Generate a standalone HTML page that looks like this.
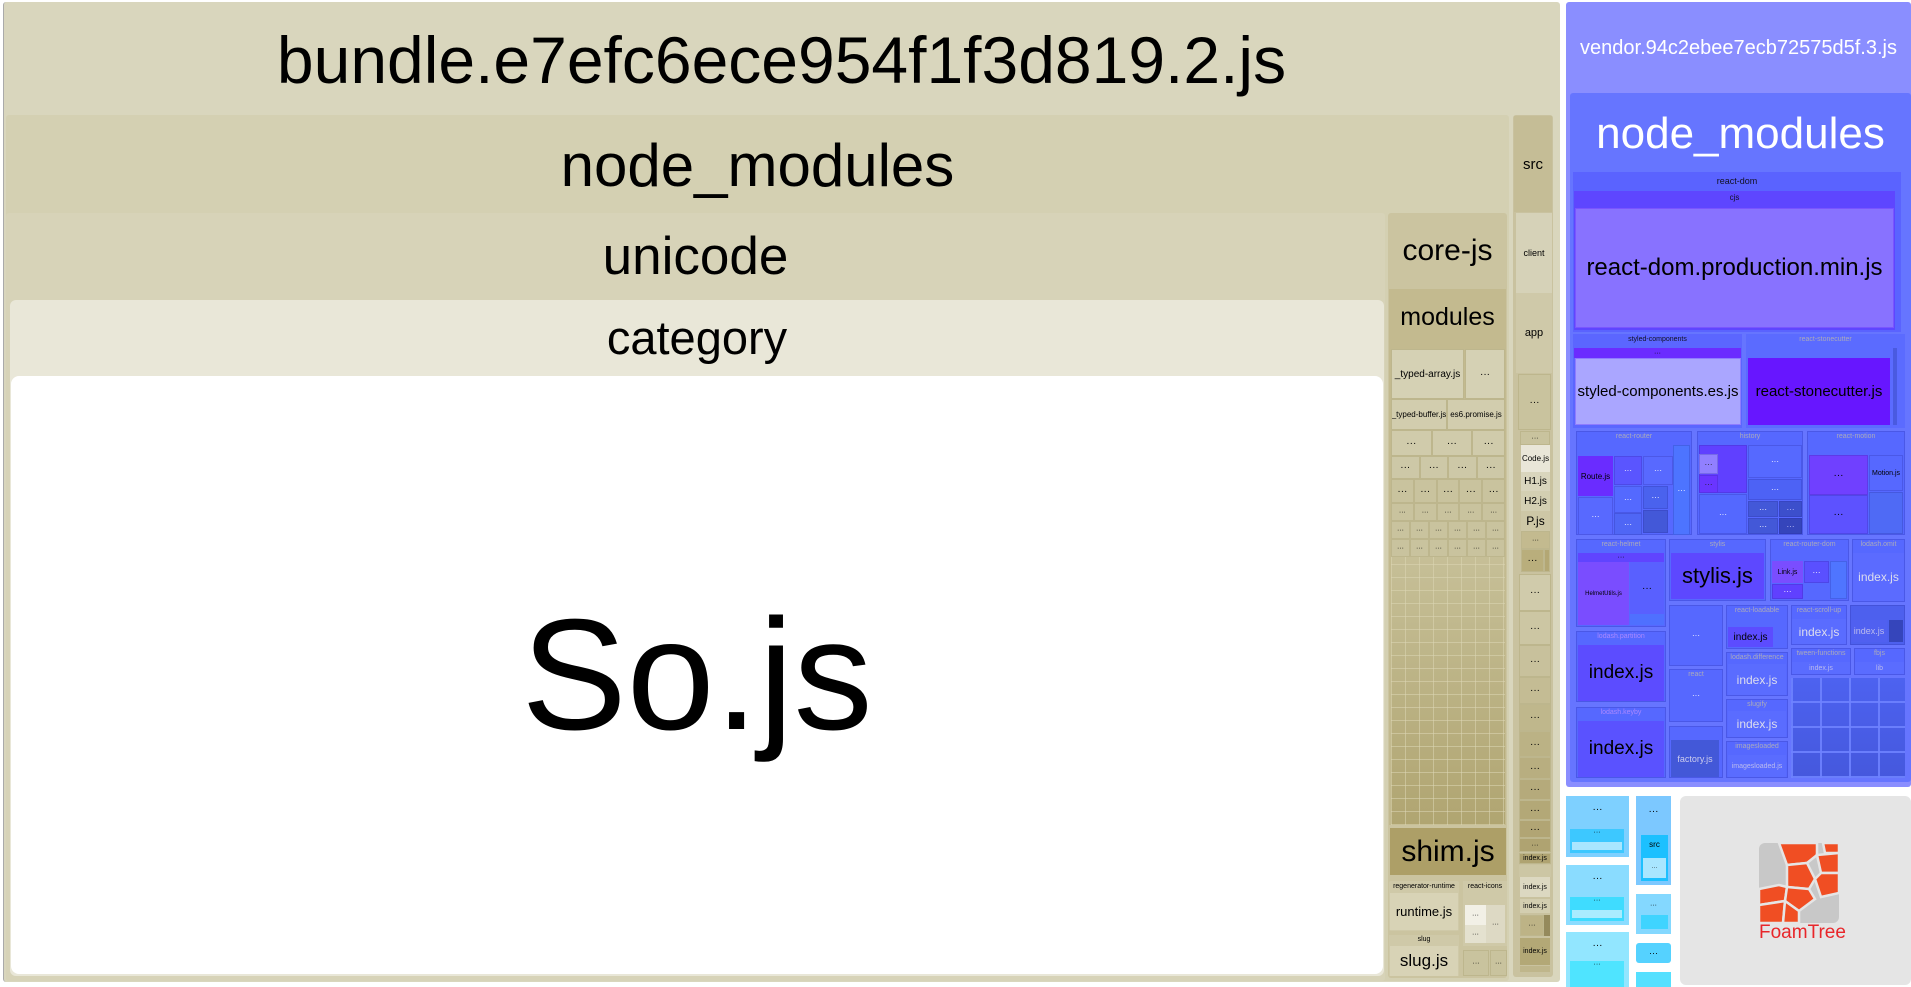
<!DOCTYPE html>
<html><head><meta charset="utf-8"><style>
*{margin:0;padding:0;box-sizing:border-box}
body{width:1911px;height:987px;background:#fff;position:relative;overflow:hidden;font-family:"Liberation Sans",sans-serif}
.b{position:absolute;display:flex;align-items:center;justify-content:center;text-align:center;white-space:nowrap;overflow:hidden;color:#000}
.t{position:absolute;left:0;right:0;text-align:center;white-space:nowrap}
.s{background:#c9c39e;border:1px solid #bdb68d;font-size:10px}
.v{border:1px solid rgba(40,40,160,.25);font-size:8px;color:#c9c9ff}
</style></head><body>

<!-- bundle -->
<div class="b" style="left:3px;top:2px;width:1557px;height:980px;background:#d9d6bd;border-left:1px solid #aaa;border-radius:3px"></div>
<div class="t" style="left:3px;width:1557px;top:20px;font-size:66px;line-height:80px">bundle.e7efc6ece954f1f3d819.2.js</div>

<div class="b" style="left:6px;top:115px;width:1503px;height:866px;background:#d4d0b2;border-radius:3px"></div>
<div class="t" style="left:6px;width:1503px;top:133px;font-size:60px;line-height:66px">node_modules</div>

<div class="b" style="left:6px;top:213px;width:1379px;height:768px;background:#d7d3b8;border-radius:3px"></div>
<div class="t" style="left:6px;width:1379px;top:228px;font-size:53px;line-height:58px">unicode</div>

<div class="b" style="left:10px;top:300px;width:1374px;height:676px;background:#e9e7d8;border-radius:6px"></div>
<div class="t" style="left:10px;width:1374px;top:312px;font-size:47px;line-height:52px">category</div>

<div class="b" style="left:11px;top:376px;width:1372px;height:598px;background:#fff;border-radius:8px;font-size:158px">So.js</div>

<!-- core-js -->
<div class="b" style="left:1388px;top:213px;width:119px;height:765px;background:#cbc4a0;border-radius:3px"></div>
<div class="t" style="left:1388px;width:119px;top:234px;font-size:30px;line-height:34px">core-js</div>
<div class="b" style="left:1389px;top:289px;width:117px;height:536px;background:#c3ba8f"></div>
<div class="t" style="left:1389px;width:117px;top:302px;font-size:25px;line-height:30px">modules</div>
<div class="b s" style="left:1391px;top:349px;width:73px;height:50px;background:#d5d1b4">_typed-array.js</div>
<div class="b s" style="left:1465px;top:349px;width:40px;height:50px;background:#d5d1b4">···</div>
<div class="b s" style="left:1391px;top:399px;width:56px;height:31px;font-size:8px;background:#d2cdae">_typed-buffer.js</div>
<div class="b s" style="left:1447px;top:399px;width:58px;height:31px;font-size:8px;background:#d2cdae">es6.promise.js</div>
<div style="position:absolute;left:1391px;top:430px;width:114px;height:127px;display:grid;grid-template-rows:26px 23px 24px 18px 18px 18px;">
 <div style="display:flex"><div class="b s" style="position:relative;flex:1;background:#d0cbab">···</div><div class="b s" style="position:relative;flex:1;background:#d0cbab">···</div><div class="b s" style="position:relative;flex:.8;background:#d0cbab">···</div></div>
 <div style="display:flex"><div class="b s" style="position:relative;flex:1;background:#cdc8a7">···</div><div class="b s" style="position:relative;flex:1;background:#cdc8a7">···</div><div class="b s" style="position:relative;flex:1;background:#cdc8a7">···</div><div class="b s" style="position:relative;flex:1;background:#cdc8a7">···</div></div>
 <div style="display:flex"><div class="b s" style="position:relative;flex:1">···</div><div class="b s" style="position:relative;flex:1">···</div><div class="b s" style="position:relative;flex:1">···</div><div class="b s" style="position:relative;flex:1">···</div><div class="b s" style="position:relative;flex:1">···</div></div>
 <div style="display:flex"><div class="b s" style="position:relative;flex:1;font-size:7px">···</div><div class="b s" style="position:relative;flex:1;font-size:7px">···</div><div class="b s" style="position:relative;flex:1;font-size:7px">···</div><div class="b s" style="position:relative;flex:1;font-size:7px">···</div><div class="b s" style="position:relative;flex:1;font-size:7px">···</div></div>
 <div style="display:flex"><div class="b s" style="position:relative;flex:1;font-size:7px">···</div><div class="b s" style="position:relative;flex:1;font-size:7px">···</div><div class="b s" style="position:relative;flex:1;font-size:7px">···</div><div class="b s" style="position:relative;flex:1;font-size:7px">···</div><div class="b s" style="position:relative;flex:1;font-size:7px">···</div><div class="b s" style="position:relative;flex:1;font-size:7px">···</div></div>
 <div style="display:flex"><div class="b s" style="position:relative;flex:1;font-size:7px">···</div><div class="b s" style="position:relative;flex:1;font-size:7px">···</div><div class="b s" style="position:relative;flex:1;font-size:7px">···</div><div class="b s" style="position:relative;flex:1;font-size:7px">···</div><div class="b s" style="position:relative;flex:1;font-size:7px">···</div><div class="b s" style="position:relative;flex:1;font-size:7px">···</div></div>
</div>
<div style="position:absolute;left:1391px;top:557px;width:114px;height:268px;background:
repeating-linear-gradient(90deg,rgba(220,214,180,.55) 0 1px,transparent 1px 14px),
repeating-linear-gradient(0deg,rgba(220,214,180,.55) 0 1px,transparent 1px 13px),
linear-gradient(#c6bf97,#b0a571)"></div>

<div class="b" style="left:1390px;top:828px;width:116px;height:47px;background:#ad9f67;font-size:30px">shim.js</div>
<div class="b" style="left:1389px;top:881px;width:70px;height:50px;background:#cfc9a8;border-radius:2px"></div>
<div class="t" style="left:1389px;width:70px;top:883px;font-size:7px">regenerator-runtime</div>
<div class="b" style="left:1390px;top:893px;width:68px;height:37px;background:#d8d3b6;font-size:13px">runtime.js</div>
<div class="b" style="left:1389px;top:935px;width:70px;height:41px;background:#cfc9a8"></div>
<div class="t" style="left:1389px;width:70px;top:936px;font-size:7px">slug</div>
<div class="b" style="left:1390px;top:946px;width:68px;height:30px;background:#d8d3b6;font-size:17px">slug.js</div>
<div class="b" style="left:1463px;top:881px;width:44px;height:65px;background:#cfc9a8"></div>
<div class="t" style="left:1463px;width:44px;top:883px;font-size:7px">react-icons</div>
<div class="b" style="left:1465px;top:905px;width:21px;height:20px;background:#f2f0e6;font-size:7px">···</div>
<div class="b" style="left:1486px;top:905px;width:19px;height:38px;background:#ddd9c4;font-size:7px">···</div>
<div class="b" style="left:1465px;top:925px;width:21px;height:18px;background:#e4e1cf;font-size:7px">···</div>
<div class="b s" style="left:1463px;top:950px;width:26px;height:26px;font-size:7px">···</div>
<div class="b s" style="left:1490px;top:950px;width:17px;height:26px;font-size:7px">···</div>

<!-- src column -->
<div class="b" style="left:1513px;top:115px;width:40px;height:862px;background:#c9c29f;border-radius:3px"></div>
<div class="b" style="left:1514px;top:116px;width:38px;height:96px;background:#c5bd96;font-size:15px">src</div>
<div class="b" style="left:1516px;top:213px;width:36px;height:80px;background:#d6d2b8;font-size:9px">client</div>
<div class="b" style="left:1516px;top:293px;width:36px;height:80px;background:#cfc9a9;font-size:11px">app</div>
<div class="b s" style="left:1518px;top:374px;width:33px;height:56px">···</div>
<div class="b s" style="left:1520px;top:431px;width:30px;height:14px;font-size:7px">···</div>
<div class="b" style="left:1521px;top:445px;width:29px;height:27px;background:#e9e6d8;font-size:8px">Code.js</div>
<div class="b" style="left:1521px;top:472px;width:29px;height:19px;background:#d9d5bd;font-size:10px">H1.js</div>
<div class="b" style="left:1521px;top:491px;width:29px;height:20px;background:#d3cfb2;font-size:10px">H2.js</div>
<div class="b" style="left:1521px;top:511px;width:29px;height:20px;background:#cdc7a6;font-size:12px">P.js</div>
<div class="b s" style="left:1521px;top:531px;width:29px;height:18px;font-size:7px;background:#c3ba8f">···</div>
<div class="b s" style="left:1521px;top:549px;width:23px;height:23px;background:#b9ae7c">···</div>
<div class="b s" style="left:1544px;top:549px;width:6px;height:23px;background:#b3a774"></div>
<div class="b s" style="left:1519px;top:574px;width:32px;height:37px;background:#d0cbab">···</div>
<div class="b s" style="left:1519px;top:611px;width:32px;height:34px;background:#ccc6a3">···</div>
<div class="b s" style="left:1519px;top:645px;width:32px;height:32px;background:#c8c19c">···</div>
<div class="b s" style="left:1519px;top:677px;width:32px;height:27px;background:#c4bc94">···</div>
<div class="b s" style="left:1519px;top:704px;width:32px;height:27px;background:#bfb78c">···</div>
<div class="b s" style="left:1519px;top:731px;width:32px;height:26px;background:#bbb285">···</div>
<div class="b s" style="left:1519px;top:757px;width:32px;height:22px;background:#b8ae80">···</div>
<div class="b s" style="left:1519px;top:779px;width:32px;height:21px;background:#b5aa7b">···</div>
<div class="b s" style="left:1519px;top:800px;width:32px;height:20px;background:#b3a877">···</div>
<div class="b s" style="left:1519px;top:820px;width:32px;height:18px;background:#b1a574">···</div>
<div class="b s" style="left:1519px;top:838px;width:32px;height:14px;background:#afa371;font-size:7px">···</div>
<div class="b s" style="left:1519px;top:853px;width:32px;height:11px;background:#afa371;font-size:7px">index.js</div>
<div class="b" style="left:1519px;top:865px;width:32px;height:12px;background:#ccc6a4"></div>
<div class="b" style="left:1520px;top:877px;width:30px;height:20px;background:#dcd8c1;font-size:7px">index.js</div>
<div class="b" style="left:1520px;top:899px;width:30px;height:14px;background:#d3ceb0;font-size:7px">index.js</div>
<div class="b s" style="left:1520px;top:915px;width:24px;height:21px;background:#bdb386;font-size:7px">···</div>
<div class="b" style="left:1544px;top:915px;width:6px;height:21px;background:#958a5c"></div>
<div class="b" style="left:1520px;top:938px;width:30px;height:27px;background:#b3a876;font-size:7px">index.js</div>
<div class="b" style="left:1520px;top:966px;width:30px;height:6px;background:#bfb68b"></div>

<!-- vendor -->
<div class="b" style="left:1566px;top:2px;width:345px;height:785px;background:#8a8eff;border-radius:3px"></div>
<div class="t" style="left:1566px;width:345px;top:36px;font-size:20px;color:#fff;line-height:24px">vendor.94c2ebee7ecb72575d5f.3.js</div>
<div class="b" style="left:1570px;top:93px;width:341px;height:689px;background:#6675ff;border-radius:3px"></div>
<div class="t" style="left:1570px;width:341px;top:109px;font-size:44px;color:#fff;line-height:50px">node_modules</div>

<div class="b" style="left:1573px;top:172px;width:328px;height:160px;background:#5a63ff"></div>
<div class="t" style="left:1573px;width:328px;top:176px;font-size:9px;color:#112">react-dom</div>
<div class="b" style="left:1574px;top:191px;width:321px;height:139px;background:#5e46ff"></div>
<div class="t" style="left:1574px;width:321px;top:193px;font-size:8px;color:#112">cjs</div>
<div class="b" style="left:1575px;top:208px;width:319px;height:120px;background:#8872ff;border:1px solid #7a55ff;font-size:24px;color:#000">react-dom.production.min.js</div>

<div class="b" style="left:1573px;top:334px;width:169px;height:94px;background:#5b66ff"></div>
<div class="t" style="left:1573px;width:169px;top:336px;font-size:7px;color:#112">styled-components</div>
<div class="b" style="left:1574px;top:348px;width:167px;height:10px;background:#6b2cff;font-size:7px;color:#000">···</div>
<div class="b" style="left:1575px;top:358px;width:166px;height:67px;background:#aaa6ff;border:1px solid #8f7cff;font-size:15px">styled-components.es.js</div>
<div class="b" style="left:1746px;top:334px;width:159px;height:94px;background:#5b6bff"></div>
<div class="t" style="left:1746px;width:159px;top:336px;font-size:7px;color:#aab">react-stonecutter</div>
<div class="b" style="left:1748px;top:358px;width:142px;height:67px;background:#6716ff;font-size:15px">react-stonecutter.js</div>
<div class="b" style="left:1893px;top:348px;width:4px;height:77px;background:#4a5ae0"></div>

<!-- row3 -->
<div class="b v" style="left:1576px;top:431px;width:116px;height:104px;background:#5668ff"></div>
<div class="t" style="left:1576px;width:116px;top:433px;font-size:7px;color:#aab">react-router</div>
<div class="b" style="left:1578px;top:456px;width:35px;height:40px;background:#6a2cff;font-size:8px">Route.js</div>
<div class="b v" style="left:1614px;top:456px;width:28px;height:29px;background:#5a55ff;color:#fff">···</div>
<div class="b v" style="left:1643px;top:456px;width:30px;height:29px;background:#5869ff;color:#fff">···</div>
<div class="b v" style="left:1614px;top:486px;width:28px;height:27px;background:#5469ff;color:#fff">···</div>
<div class="b v" style="left:1643px;top:486px;width:25px;height:23px;background:#4a62ee;color:#fff">···</div>
<div class="b v" style="left:1578px;top:497px;width:35px;height:38px;background:#5869ff;color:#fff">···</div>
<div class="b v" style="left:1614px;top:513px;width:28px;height:22px;background:#4f66f5;color:#fff">···</div>
<div class="b v" style="left:1643px;top:510px;width:25px;height:23px;background:#4358d8"></div>
<div class="b v" style="left:1673px;top:445px;width:17px;height:90px;background:#4d74ff;color:#fff">···</div>

<div class="b v" style="left:1697px;top:431px;width:106px;height:104px;background:#5668ff"></div>
<div class="t" style="left:1697px;width:106px;top:433px;font-size:7px;color:#aab">history</div>
<div class="b v" style="left:1699px;top:445px;width:48px;height:48px;background:#6040ff"></div>
<div class="b v" style="left:1699px;top:454px;width:19px;height:20px;background:#9180ff;color:#222">···</div>
<div class="b v" style="left:1699px;top:475px;width:19px;height:18px;background:#6a35ff;color:#222">···</div>
<div class="b v" style="left:1748px;top:445px;width:54px;height:33px;background:#5669ff;color:#fff">···</div>
<div class="b v" style="left:1748px;top:479px;width:54px;height:21px;background:#4d62f5;color:#fff">···</div>
<div class="b v" style="left:1748px;top:501px;width:30px;height:16px;background:#4358d8;color:#fff">···</div>
<div class="b v" style="left:1779px;top:501px;width:23px;height:16px;background:#3c4fcc">···</div>
<div class="b v" style="left:1748px;top:518px;width:30px;height:16px;background:#4358d8;color:#fff">···</div>
<div class="b v" style="left:1779px;top:518px;width:23px;height:16px;background:#3545bb">···</div>
<div class="b v" style="left:1699px;top:494px;width:48px;height:40px;background:#5468ff;color:#fff">···</div>

<div class="b v" style="left:1807px;top:431px;width:98px;height:104px;background:#5668ff"></div>
<div class="t" style="left:1807px;width:98px;top:433px;font-size:7px;color:#aab">react-motion</div>
<div class="b v" style="left:1809px;top:455px;width:59px;height:40px;background:#7040ff;color:#000;font-size:10px">···</div>
<div class="b v" style="left:1809px;top:495px;width:59px;height:39px;background:#5d52ff;color:#000;font-size:10px">···</div>
<div class="b v" style="left:1869px;top:455px;width:34px;height:36px;background:#5668ff;color:#000;font-size:7px">Motion.js</div>
<div class="b v" style="left:1869px;top:492px;width:34px;height:42px;background:#4f6af5"></div>

<!-- row4 -->
<div class="b v" style="left:1576px;top:539px;width:90px;height:88px;background:#5668ff"></div>
<div class="t" style="left:1576px;width:90px;top:541px;font-size:7px;color:#aab">react-helmet</div>
<div class="b" style="left:1578px;top:553px;width:86px;height:9px;background:#6044ff;font-size:7px">···</div>
<div class="b" style="left:1578px;top:562px;width:51px;height:63px;background:#7a4dff;font-size:6px">HelmetUtils.js</div>
<div class="b" style="left:1630px;top:562px;width:34px;height:52px;background:#5960ff;font-size:10px">···</div>
<div class="b" style="left:1630px;top:614px;width:34px;height:11px;background:#4f70ff"></div>
<div class="b v" style="left:1669px;top:539px;width:97px;height:62px;background:#5668ff"></div>
<div class="t" style="left:1669px;width:97px;top:541px;font-size:7px;color:#aab">stylis</div>
<div class="b" style="left:1671px;top:553px;width:93px;height:46px;background:#5d48ff;font-size:22px">stylis.js</div>
<div class="b v" style="left:1770px;top:539px;width:79px;height:62px;background:#5668ff"></div>
<div class="t" style="left:1770px;width:79px;top:541px;font-size:7px;color:#aab">react-router-dom</div>
<div class="b" style="left:1772px;top:561px;width:31px;height:22px;background:#7a4dff;font-size:7px">Link.js</div>
<div class="b v" style="left:1804px;top:561px;width:25px;height:22px;background:#5a50ff;color:#fff">···</div>
<div class="b v" style="left:1772px;top:584px;width:31px;height:15px;background:#6040ff;color:#fff">···</div>
<div class="b v" style="left:1830px;top:561px;width:17px;height:38px;background:#4f75ff"></div>
<div class="b v" style="left:1852px;top:539px;width:53px;height:63px;background:#5668ff"></div>
<div class="t" style="left:1852px;width:53px;top:541px;font-size:7px;color:#aab">lodash.omit</div>
<div class="b" style="left:1853px;top:553px;width:51px;height:48px;background:#5b6bff;font-size:12px;color:#dde">index.js</div>

<div class="b v" style="left:1576px;top:631px;width:90px;height:71px;background:#5668ff"></div>
<div class="t" style="left:1576px;width:90px;top:633px;font-size:7px;color:#a8f">lodash.partition</div>
<div class="b" style="left:1578px;top:645px;width:86px;height:56px;background:#5c4cff;font-size:19px">index.js</div>
<div class="b v" style="left:1576px;top:707px;width:90px;height:71px;background:#5668ff"></div>
<div class="t" style="left:1576px;width:90px;top:709px;font-size:7px;color:#a8f">lodash.keyby</div>
<div class="b" style="left:1578px;top:721px;width:86px;height:56px;background:#5a52ff;font-size:19px">index.js</div>

<div class="b v" style="left:1669px;top:605px;width:54px;height:61px;background:#5668ff;color:#fff">···</div>
<div class="b v" style="left:1669px;top:669px;width:54px;height:53px;background:#5668ff;color:#fff">···</div>
<div class="t" style="left:1669px;width:54px;top:671px;font-size:7px;color:#aab">react</div>
<div class="b v" style="left:1669px;top:726px;width:54px;height:52px;background:#5668ff"></div>
<div class="b" style="left:1671px;top:740px;width:48px;height:37px;background:#4358d8;font-size:9px;color:#cce">factory.js</div>

<div class="b v" style="left:1726px;top:605px;width:62px;height:44px;background:#5668ff"></div>
<div class="t" style="left:1726px;width:62px;top:607px;font-size:7px;color:#aab">react-loadable</div>
<div class="b" style="left:1728px;top:627px;width:45px;height:20px;background:#5c4cff;font-size:10px">index.js</div>
<div class="b v" style="left:1726px;top:652px;width:62px;height:44px;background:#5668ff"></div>
<div class="t" style="left:1726px;width:62px;top:654px;font-size:7px;color:#aab">lodash.difference</div>
<div class="b" style="left:1728px;top:664px;width:58px;height:31px;background:#5a6cff;font-size:12px;color:#dde">index.js</div>
<div class="b v" style="left:1726px;top:699px;width:62px;height:39px;background:#5668ff"></div>
<div class="t" style="left:1726px;width:62px;top:701px;font-size:7px;color:#aab">slugify</div>
<div class="b" style="left:1728px;top:711px;width:58px;height:26px;background:#5a6cff;font-size:12px;color:#dde">index.js</div>
<div class="b v" style="left:1726px;top:741px;width:62px;height:37px;background:#5668ff"></div>
<div class="t" style="left:1726px;width:62px;top:743px;font-size:7px;color:#aab">imagesloaded</div>
<div class="b" style="left:1728px;top:755px;width:58px;height:22px;background:#5a6cff;font-size:7px;color:#bbe">imagesloaded.js</div>

<div class="b v" style="left:1791px;top:605px;width:56px;height:40px;background:#5668ff"></div>
<div class="t" style="left:1791px;width:56px;top:607px;font-size:7px;color:#aab">react-scroll-up</div>
<div class="b" style="left:1792px;top:619px;width:54px;height:25px;background:#5a6cff;font-size:12px;color:#dde">index.js</div>
<div class="b v" style="left:1850px;top:605px;width:55px;height:40px;background:#4d60ee"></div>
<div class="b" style="left:1851px;top:620px;width:36px;height:22px;background:#5060f0;font-size:9px;color:#bbe">index.js</div>
<div class="b" style="left:1889px;top:620px;width:14px;height:22px;background:#3545bb"></div>
<div class="b v" style="left:1791px;top:648px;width:60px;height:27px;background:#5668ff"></div>
<div class="t" style="left:1791px;width:60px;top:650px;font-size:7px;color:#aab">tween-functions</div>
<div class="b" style="left:1792px;top:662px;width:58px;height:12px;background:#5a6cff;font-size:7px;color:#bbe">index.js</div>
<div class="b v" style="left:1854px;top:648px;width:51px;height:27px;background:#5668ff"></div>
<div class="t" style="left:1854px;width:51px;top:650px;font-size:7px;color:#aab">fbjs</div>
<div class="b" style="left:1855px;top:662px;width:49px;height:12px;background:#5a6cff;font-size:7px;color:#bbe">lib</div>
<div style="position:absolute;left:1791px;top:678px;width:114px;height:100px;background:
repeating-linear-gradient(90deg,rgba(110,130,255,.9) 0 2px,transparent 2px 29px),
repeating-linear-gradient(0deg,rgba(110,130,255,.9) 0 2px,transparent 2px 25px),
linear-gradient(#4d62f0,#4558dd)"></div>

<!-- lower blue boxes -->
<div class="b" style="left:1566px;top:796px;width:63px;height:61px;background:#7ed0ff;align-items:flex-start;padding-top:8px;font-size:10px">···</div>
<div class="b" style="left:1570px;top:829px;width:54px;height:24px;background:#3dc8ff;font-size:7px;align-items:flex-start">···</div>
<div class="b" style="left:1572px;top:842px;width:50px;height:8px;background:#a9e6ff"></div>
<div class="b" style="left:1566px;top:865px;width:63px;height:60px;background:#8adcff;align-items:flex-start;padding-top:8px;font-size:10px">···</div>
<div class="b" style="left:1570px;top:897px;width:54px;height:24px;background:#3fdcff;font-size:7px;align-items:flex-start">···</div>
<div class="b" style="left:1572px;top:910px;width:50px;height:8px;background:#a9ecff"></div>
<div class="b" style="left:1566px;top:932px;width:63px;height:55px;background:#92e6ff;align-items:flex-start;padding-top:8px;font-size:10px">···</div>
<div class="b" style="left:1570px;top:961px;width:54px;height:26px;background:#4fe4ff;font-size:7px;align-items:flex-start">···</div>

<div class="b" style="left:1636px;top:796px;width:35px;height:89px;background:#7cc8ff;align-items:flex-start;padding-top:10px;font-size:10px">···</div>
<div class="b" style="left:1641px;top:835px;width:27px;height:46px;background:#1cc0ff;align-items:flex-start;padding-top:5px;font-size:8px">src</div>
<div class="b" style="left:1643px;top:858px;width:23px;height:20px;background:#a9e6ff;font-size:6px">···</div>
<div class="b" style="left:1636px;top:894px;width:35px;height:40px;background:#84d8ff;align-items:flex-start;padding-top:8px;font-size:7px">···</div>
<div class="b" style="left:1641px;top:915px;width:27px;height:14px;background:#3fd4ff"></div>
<div class="b" style="left:1636px;top:943px;width:35px;height:20px;background:#55d2ff;border-radius:3px;font-size:9px">···</div>
<div class="b" style="left:1636px;top:972px;width:35px;height:15px;background:#55e0ff"></div>

<!-- FoamTree -->
<div class="b" style="left:1680px;top:796px;width:231px;height:189px;background:#e5e5e5;border-radius:6px"></div>
<svg style="position:absolute;left:1759px;top:843px" width="80" height="80" viewBox="0 0 80 80">
<rect x="0" y="0" width="80" height="80" rx="6" fill="#c8c8c8"/>
<g fill="#f04e23" stroke="#e5e5e5" stroke-width="2.5">
<polygon points="20,0 58,0 58,12 48,20 28,22"/>
<polygon points="64,0 80,0 80,10 66,10"/>
<polygon points="28,22 48,20 56,36 50,46 28,44"/>
<polygon points="58,12 80,10 80,30 62,30"/>
<polygon points="56,36 62,30 80,30 80,50 62,54"/>
<polygon points="0,46 20,42 28,44 26,58 0,62"/>
<polygon points="28,44 50,46 56,56 40,68 26,58"/>
<polygon points="0,62 26,58 24,80 0,80"/>
<polygon points="26,58 40,68 40,80 24,80"/>
</g>
</svg>
<div class="t" style="left:1759px;width:80px;top:922px;font-size:19px;color:#e8262a;line-height:22px">FoamTree</div>

</body></html>
